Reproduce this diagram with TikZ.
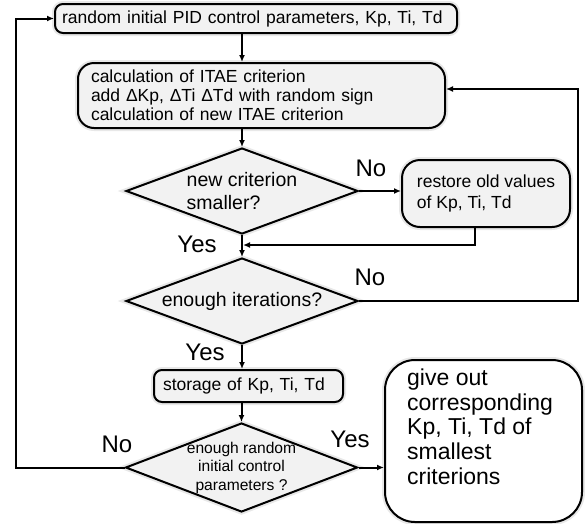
\documentclass[tikz,border=0pt]{standalone}
\usepackage{fontspec}
\setmainfont{Liberation Sans}
\usepackage{tikz}
\usetikzlibrary{positioning,shapes,calc,arrows.meta}
\definecolor{boxgray}{RGB}{242,242,242}

\begin{document}
\begin{tikzpicture}[x=1pt,y=-1pt,
  glow/.style={preaction={draw=black!9,line width=6pt}},
  procbox/.style={draw,line width=2pt,fill=boxgray,rounded corners=8pt,glow,align=left,font=\fontsize{17.5}{19}\selectfont},
  decision/.style={draw,diamond,shape aspect=2.7,line width=2pt,fill=boxgray,glow,minimum width=232pt,minimum height=86pt,inner sep=0pt,align=center},
  yesno/.style={font=\fontsize{24}{24}\selectfont,inner sep=0pt},
  flow/.style={line width=2pt,-{Latex[length=7pt,width=6pt]}}]
			\useasboundingbox (0,0) rectangle (585,523);

			\node[procbox,text width=388pt,inner xsep=7pt,minimum height=29pt] (init) at (256,18.5) {random initial PID control parameters, Kp, Ti, Td};
			\node[procbox,text width=341pt,inner xsep=13pt,minimum height=65pt,rounded corners=16pt] (itae) at (261.5,95.5) {calculation of ITAE criterion\\add ΔKp, ΔTi ΔTd with random sign\\calculation of new ITAE criterion};
			\node[decision,font=\fontsize{19.5}{23}\selectfont,align=left] (smaller) at (242,191) {new criterion\\smaller?};
			\node[procbox,font=\fontsize{17.5}{21}\selectfont,minimum width=168pt,minimum height=67pt,rounded corners=18pt] (restore) at (486,193.5) {restore old values\\of Kp, Ti, Td};
			\coordinate (merge) at (242,245);
			\node[decision,font=\fontsize{19.5}{23}\selectfont] (iter) at (242,301) {enough iterations?};
			\node[procbox,text width=171pt,inner xsep=9pt,minimum height=32pt] (store) at (248.5,386) {storage of Kp, Ti, Td};
			\node[decision,font=\fontsize{15.6}{18.5}\selectfont,inner sep=-8pt,minimum height=89pt] (enough) at (241.5,467.5) {enough random\\initial control\\parameters ?};
			\node[draw,line width=2pt,fill=white,glow,rounded corners=30pt,minimum width=197pt,minimum height=162pt] (result) at (483.5,441) {};
			\node[font=\fontsize{23}{24.7}\selectfont,align=left,inner sep=0pt,anchor=north west] (resulttext) at ([shift={(23,9.5)}]result.north west) {give out\\corresponding\\Kp, Ti, Td of\\smallest\\criterions};

			\node[yesno] (no1) at (371,168) {No};
			\node[yesno] (yes1) at (197,244) {Yes};
			\node[yesno] (no2) at (370,277) {No};
			\node[yesno] (yes2) at (205,352) {Yes};
			\node[yesno] (no3) at (117,444) {No};
			\node[yesno] (yes3) at (350,439) {Yes};

			\coordinate (backR) at (578,89);
			\coordinate (backL) at (16,18.5);
			\draw[flow] (init.south -| smaller.north) -- (itae.north -| smaller.north);
			\draw[flow] (itae.south -| smaller.north) -- (smaller.north);
			\draw[flow] (smaller.east) -- (smaller.east -| restore.west);
			\draw[flow,shorten >=1pt] ([xshift=-11pt]restore.south) |- (merge);
			\draw[flow] (smaller.south) -- (iter.north);
			\draw[flow] (iter.east) -| (backR) -- (backR -| itae.east);
			\draw[flow] (iter.south) -- (iter.south |- store.north);
			\draw[flow] (store.south -| enough.north) -- (enough.north);
			\draw[flow] (enough.east) -- (enough.east -| result.west);
			\draw[flow] (enough.west) -| (backL) -- (init.west);
\end{tikzpicture}
\end{document}
